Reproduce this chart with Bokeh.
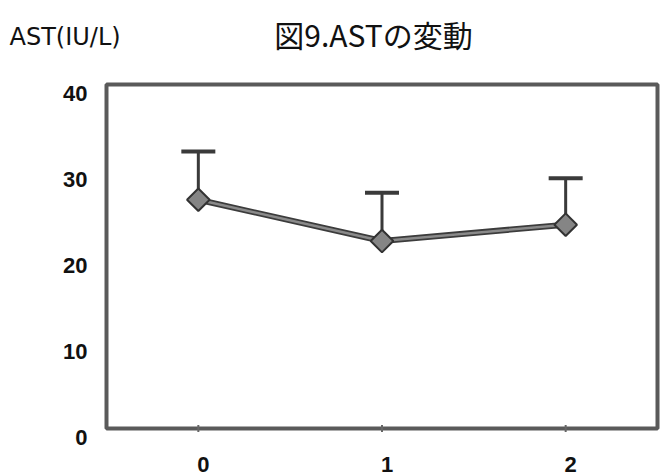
import numpy as np
from bokeh.plotting import figure
from bokeh.models import Range1d, Label, ColumnDataSource
from bokeh.core.properties import value
from bokeh.embed import file_html
from bokeh.resources import INLINE

# AST measurements at each time point
timepoints = [0, 1, 2]
ast_mean = [26.6, 21.8, 23.7]
ast_upper = [32.2, 27.4, 29.1]
y_ticks = [0, 10, 20, 30, 40]
x_tick_labels = ["0", "1", "2"]
y_tick_labels = ["0", "10", "20", "30", "40"]

title_text = "図9.ASTの変動"
unit_text = "AST(IU/L)"

# value domain shown inside the plot box
X_MIN, X_MAX = -0.5, 2.5
Y_MIN, Y_MAX = 0, 40

# pixel placement of the plot box on the canvas
W, H = 661, 476
BOX_L, BOX_R, BOX_T, BOX_B = 106, 657, 84, 428

# extend the ranges so that the box sits at its pixel place and the
# surrounding margin (labels, header) is part of the drawable area
xs = (X_MAX - X_MIN) / (BOX_R - BOX_L)
ys = (Y_MAX - Y_MIN) / (BOX_B - BOX_T)
x_range = Range1d(X_MIN - BOX_L * xs, X_MAX + (W - BOX_R) * xs)
y_range = Range1d(Y_MIN - (H - BOX_B) * ys, Y_MAX + BOX_T * ys)

p = figure(width=W, height=H, output_backend="svg", toolbar_location=None,
           x_range=x_range, y_range=y_range,
           x_axis_location=None, y_axis_location=None,
           min_border=0)
p.background_fill_color = "white"
p.border_fill_color = "white"
p.grid.visible = False
p.outline_line_color = None

src = ColumnDataSource(dict(x=timepoints, mean=ast_mean, upper=ast_upper))

# plot box
p.quad(left=[X_MIN], right=[X_MAX], bottom=[Y_MIN], top=[Y_MAX],
       fill_color=None, line_color="#5a5a5a", line_width=4)

# small category ticks on the bottom edge
p.scatter(x=timepoints, y=[Y_MIN] * len(timepoints), marker="dash", angle=np.pi / 2,
          size=7, line_color="#666666", line_width=2)

digit_font = value("Liberation Sans")

# y tick labels
p.text(x=[X_MIN] * len(y_ticks), y=y_ticks, text=y_tick_labels,
       x_offset=-19, y_offset=9, text_align="right", text_baseline="middle",
       text_font=digit_font, text_font_style="bold", text_font_size="22px",
       text_color="#111111")

# x tick labels
p.text(x=timepoints, y=[Y_MIN] * len(timepoints), text=x_tick_labels,
       x_offset=5, y_offset=36, text_align="center", text_baseline="middle",
       text_font=digit_font, text_font_style="bold", text_font_size="22px",
       text_color="#111111")

# upward error bars
p.segment(x0="x", y0="mean", x1="x", y1="upper", source=src,
          line_color="#3a3a3a", line_width=3)
p.scatter(x="x", y="upper", source=src, marker="dash", size=34,
          line_color="#3a3a3a", line_width=4)

# connecting line (dark edge with a lighter core)
p.line(x="x", y="mean", source=src, line_color="#3c3c3c", line_width=6)
p.line(x="x", y="mean", source=src, line_color="#8a8a8a", line_width=2.5)

# diamond markers
p.scatter(x="x", y="mean", source=src, marker="square", angle=np.pi / 4,
          size=16, fill_color="#858585", line_color="#333333", line_width=2)

# header texts
p.add_layout(Label(x=373, y=33, x_units="canvas", y_units="canvas",
                   text=title_text, text_font="Noto Sans CJK JP", text_font_size="30px",
                   text_align="center", text_baseline="middle", text_color="#111111"))
p.add_layout(Label(x=9, y=36, x_units="canvas", y_units="canvas",
                   text=unit_text, text_font="DejaVu Sans", text_font_size="24px",
                   text_align="left", text_baseline="middle", text_color="#111111"))

open("out.html", "w").write(file_html(p, INLINE))
